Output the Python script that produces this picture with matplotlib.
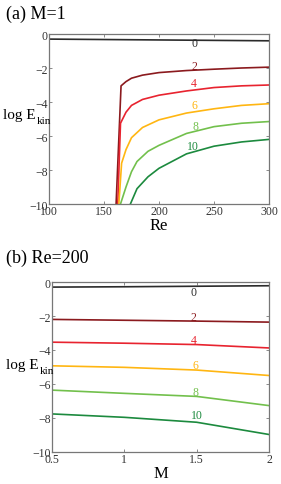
import matplotlib
matplotlib.use("Agg")
import matplotlib.pyplot as plt

plt.rcParams['font.family'] = ['Liberation Serif', 'DejaVu Serif']

modes = ['0', '2', '4', '6', '8', '10']
colors = ['#2b2b2b', '#8b1a1e', '#e8232f', '#ffb612', '#72c04c', '#1c8a3e']

# (a) M=1, energy vs Re
re_0 = [100, 300]
ek_0 = [-0.3, -0.4]
re_2 = [161, 165.5, 170, 175, 185, 200, 225, 250, 275, 300]
ek_2 = [-10, -3.05, -2.8, -2.6, -2.42, -2.27, -2.15, -2.07, -2.0, -1.95]
re_4 = [162.5, 165, 170, 175, 185, 200, 225, 250, 275, 300]
ek_4 = [-10, -5.25, -4.6, -4.2, -3.85, -3.6, -3.35, -3.15, -3.05, -3.0]
re_6 = [163.5, 166, 170, 175, 185, 200, 225, 250, 275, 300]
ek_6 = [-10, -7.6, -6.8, -6.1, -5.5, -5.05, -4.65, -4.4, -4.2, -4.1]
re_8 = [165, 170, 175, 180, 190, 200, 225, 250, 275, 300]
ek_8 = [-10, -9.0, -8.1, -7.5, -6.9, -6.55, -5.85, -5.45, -5.25, -5.15]
re_10 = [174, 180, 190, 200, 225, 250, 275, 300]
ek_10 = [-10, -9.1, -8.4, -7.9, -7.05, -6.6, -6.35, -6.2]
re_data = [re_0, re_2, re_4, re_6, re_8, re_10]
ek_a = [ek_0, ek_2, ek_4, ek_6, ek_8, ek_10]
label_re = [232, 232, 232, 232, 233, 231]
label_ya = [-0.55, -1.9, -2.9, -4.2, -5.4, -6.6]

# (b) Re=200, energy vs M
m_vals = [0.5, 1.0, 1.5, 2.0]
ek_b = [
    [-0.3, -0.28, -0.25, -0.22],
    [-2.2, -2.25, -2.3, -2.36],
    [-3.54, -3.6, -3.68, -3.88],
    [-4.93, -5.02, -5.18, -5.5],
    [-6.36, -6.55, -6.73, -7.27],
    [-7.76, -7.96, -8.25, -8.97],
]
label_m = [1.48, 1.48, 1.48, 1.49, 1.49, 1.5]
label_yb = [-0.6, -2.05, -3.4, -4.9, -6.45, -7.85]

fig = plt.figure(figsize=(2.81, 4.85), dpi=100)
W, H = 281, 485
ax1 = fig.add_axes([49 / W, 1 - 205 / H, 220 / W, 170 / H])
ax2 = fig.add_axes([52 / W, 1 - 453 / H, 217 / W, 170 / H])

for i in range(6):
    ax1.plot(re_data[i], ek_a[i], color=colors[i], lw=1.2)
    ax1.text(label_re[i], label_ya[i], modes[i], color=colors[i], fontsize=8.5,
             ha='center', va='center')
    ax2.plot(m_vals, ek_b[i], color=colors[i], lw=1.2)
    ax2.text(label_m[i], label_yb[i], modes[i], color=colors[i], fontsize=8.5,
             ha='center', va='center')

ax1.set_xlim(100, 300)
ax1.set_xticks([100, 150, 200, 250, 300])
ax2.set_xlim(0.5, 2)
ax2.set_xticks([0.5, 1, 1.5, 2])
ax2.set_xticklabels(['0.5', '1', '1.5', '2'])

for ax, xl, ly in [(ax1, 'Re', -4.75), (ax2, 'M', -4.85)]:
    ax.set_ylim(-10, 0)
    ax.set_yticks([0, -2, -4, -6, -8, -10])
    ax.set_yticklabels(['0', '\u22122', '\u22124', '\u22126', '\u22128', '\u221210'])
    ax.tick_params(direction='in', top=True, right=True, labelsize=8.5,
                   length=2.5, width=0.6, colors='#777777', labelcolor='#333333', pad=1)
    for s in ax.spines.values():
        s.set_color('#777777')
        s.set_linewidth(0.9)
    ax.set_xlabel(xl, fontsize=12, labelpad=0)
    # y label: "log E" with subscript "kin"
    tr = ax.get_yaxis_transform()
    ax.annotate('kin', (0.01, ly), xycoords=tr, xytext=(0, -4), textcoords='offset points',
                fontsize=8, ha='right', va='center')
    ax.annotate('log E', (0.01, ly), xycoords=tr, xytext=(-11, 0), textcoords='offset points',
                fontsize=11, ha='right', va='center')

fig.text(6 / W, 1 - 14 / H, '(a) M=1', fontsize=13, va='center')
fig.text(6 / W, 1 - 258 / H, '(b) Re=200', fontsize=13, va='center')

fig.savefig('out.png', dpi=100)
